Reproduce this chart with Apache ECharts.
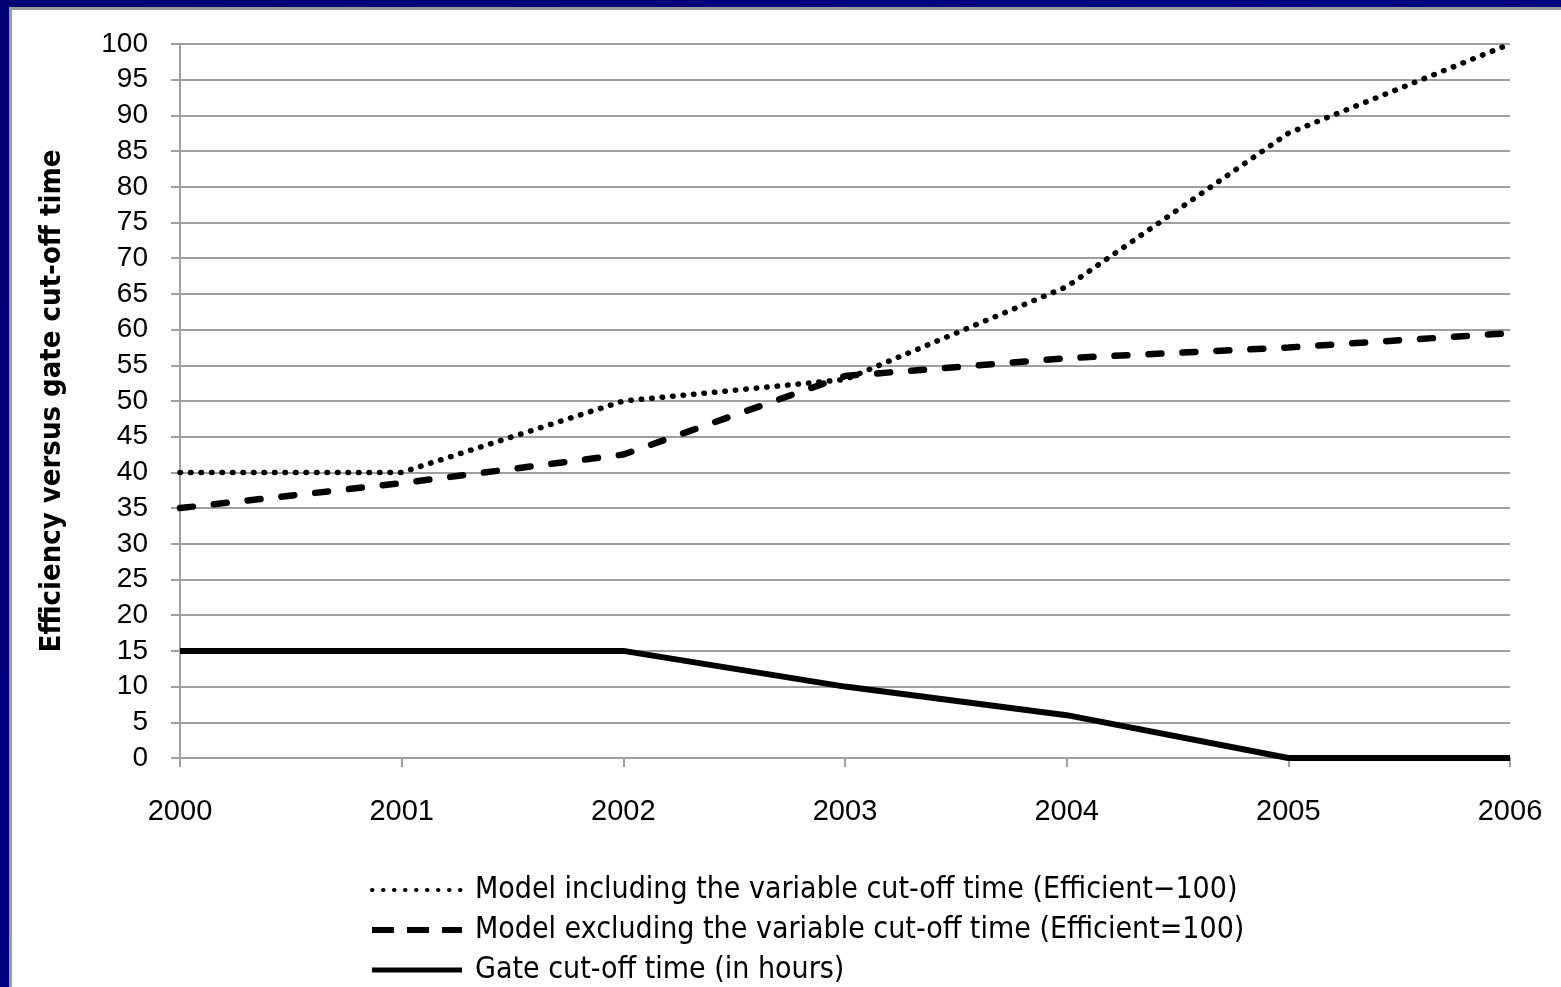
<!DOCTYPE html>
<html>
<head>
<meta charset="utf-8">
<script src="https://cdn.jsdelivr.net/npm/echarts@6/dist/echarts.min.js"></script>
<style>
  html, body { margin: 0; padding: 0; width: 1561px; height: 987px; overflow: hidden;
    background: linear-gradient(135deg, #000072 0%, #000084 50%, #00006e 100%); }
  #panel { position: absolute; left: 9px; top: 7px; width: 1552px; height: 980px;
    border-left: 3px solid #9a9a9a; border-top: 3px solid #9a9a9a; background: #fff; box-sizing: border-box; }
  #chart { width: 1549px; height: 977px; }
</style>
</head>
<body>
<div id="panel"><div id="chart"></div></div>
<script>
// Years on the horizontal axis
const years = ['2000', '2001', '2002', '2003', '2004', '2005', '2006'];

// Efficiency scores (Efficient = 100)
const modelIncluding = [40, 40, 50, 53, 66, 87.5, 100];
const modelExcluding = [35, 38.5, 42.5, 53.5, 56, 57.5, 59.5];

// Gate cut-off time, in hours
const gateCutOff = [15, 15, 15, 10, 6, 0, 0];

const seriesNames = [
  'Model including the variable cut-off time (Efficient\u2212100)',
  'Model excluding the variable cut-off time (Efficient=100)',
  'Gate cut-off time (in hours)'
];

const font = "'Liberation Sans Narrow', 'DejaVu Sans Condensed', 'Liberation Sans', sans-serif";
const tickFont = "'Liberation Sans', sans-serif";

// Line looks of the plotted series
const dottedStyle = { color: '#000', width: 5.5, type: [0.5, 10], cap: 'round' };
const dashedStyle = { color: '#000', width: 6.5, type: [13, 21], cap: 'round' };
const solidStyle = { color: '#000', width: 6, type: 'solid' };

const chart = echarts.init(document.getElementById('chart'), null, { renderer: 'canvas' });

chart.setOption({
  animation: false,
  backgroundColor: '#ffffff',
  grid: { left: 168, top: 34, right: 51, bottom: 229, containLabel: false },
  legend: {
    orient: 'vertical',
    left: 352,
    top: 860,
    height: 200,
    itemWidth: 90,
    itemHeight: 20,
    itemGap: 10,
    itemStyle: { opacity: 0 },
    data: [
      { name: seriesNames[0], lineStyle: { width: 4, type: [0.5, 10.5], cap: 'round' } },
      { name: seriesNames[1], lineStyle: { width: 6, type: [22, 13], cap: 'butt' } },
      { name: seriesNames[2], lineStyle: { width: 5, type: 'solid' } }
    ],
    textStyle: { fontFamily: font, fontSize: 30, color: '#000', padding: [0, 0, 0, 8] }
  },
  xAxis: {
    type: 'category',
    data: years,
    boundaryGap: false,
    axisLine: { lineStyle: { color: '#a0a0a0', width: 2 } },
    axisTick: { length: 9, lineStyle: { color: '#a0a0a0', width: 2 } },
    axisLabel: { fontFamily: tickFont, fontSize: 29, color: '#000', margin: 39 },
    splitLine: { show: false }
  },
  yAxis: {
    type: 'value',
    min: 0,
    max: 100,
    interval: 5,
    name: 'Efficiency versus gate cut-off time',
    nameLocation: 'middle',
    nameGap: 113,
    nameTextStyle: { fontFamily: font, fontSize: 29, fontWeight: 'bold', color: '#000' },
    axisLine: { show: true, lineStyle: { color: '#a0a0a0', width: 2 } },
    axisTick: { show: true, length: 9, lineStyle: { color: '#a0a0a0', width: 2 } },
    axisLabel: { fontFamily: tickFont, fontSize: 28, color: '#000', margin: 32 },
    splitLine: { show: true, lineStyle: { color: '#a0a0a0', width: 2 } }
  },
  series: [
    {
      name: seriesNames[1],
      type: 'line',
      data: modelExcluding,
      symbol: 'none',
      lineStyle: dashedStyle,
      itemStyle: { color: '#000' }
    },
    {
      name: seriesNames[0],
      type: 'line',
      data: modelIncluding,
      symbol: 'none',
      lineStyle: dottedStyle,
      itemStyle: { color: '#000' }
    },
    {
      name: seriesNames[2],
      type: 'line',
      data: gateCutOff,
      symbol: 'none',
      lineStyle: solidStyle,
      itemStyle: { color: '#000' }
    }
  ]
});
</script>
</body>
</html>
